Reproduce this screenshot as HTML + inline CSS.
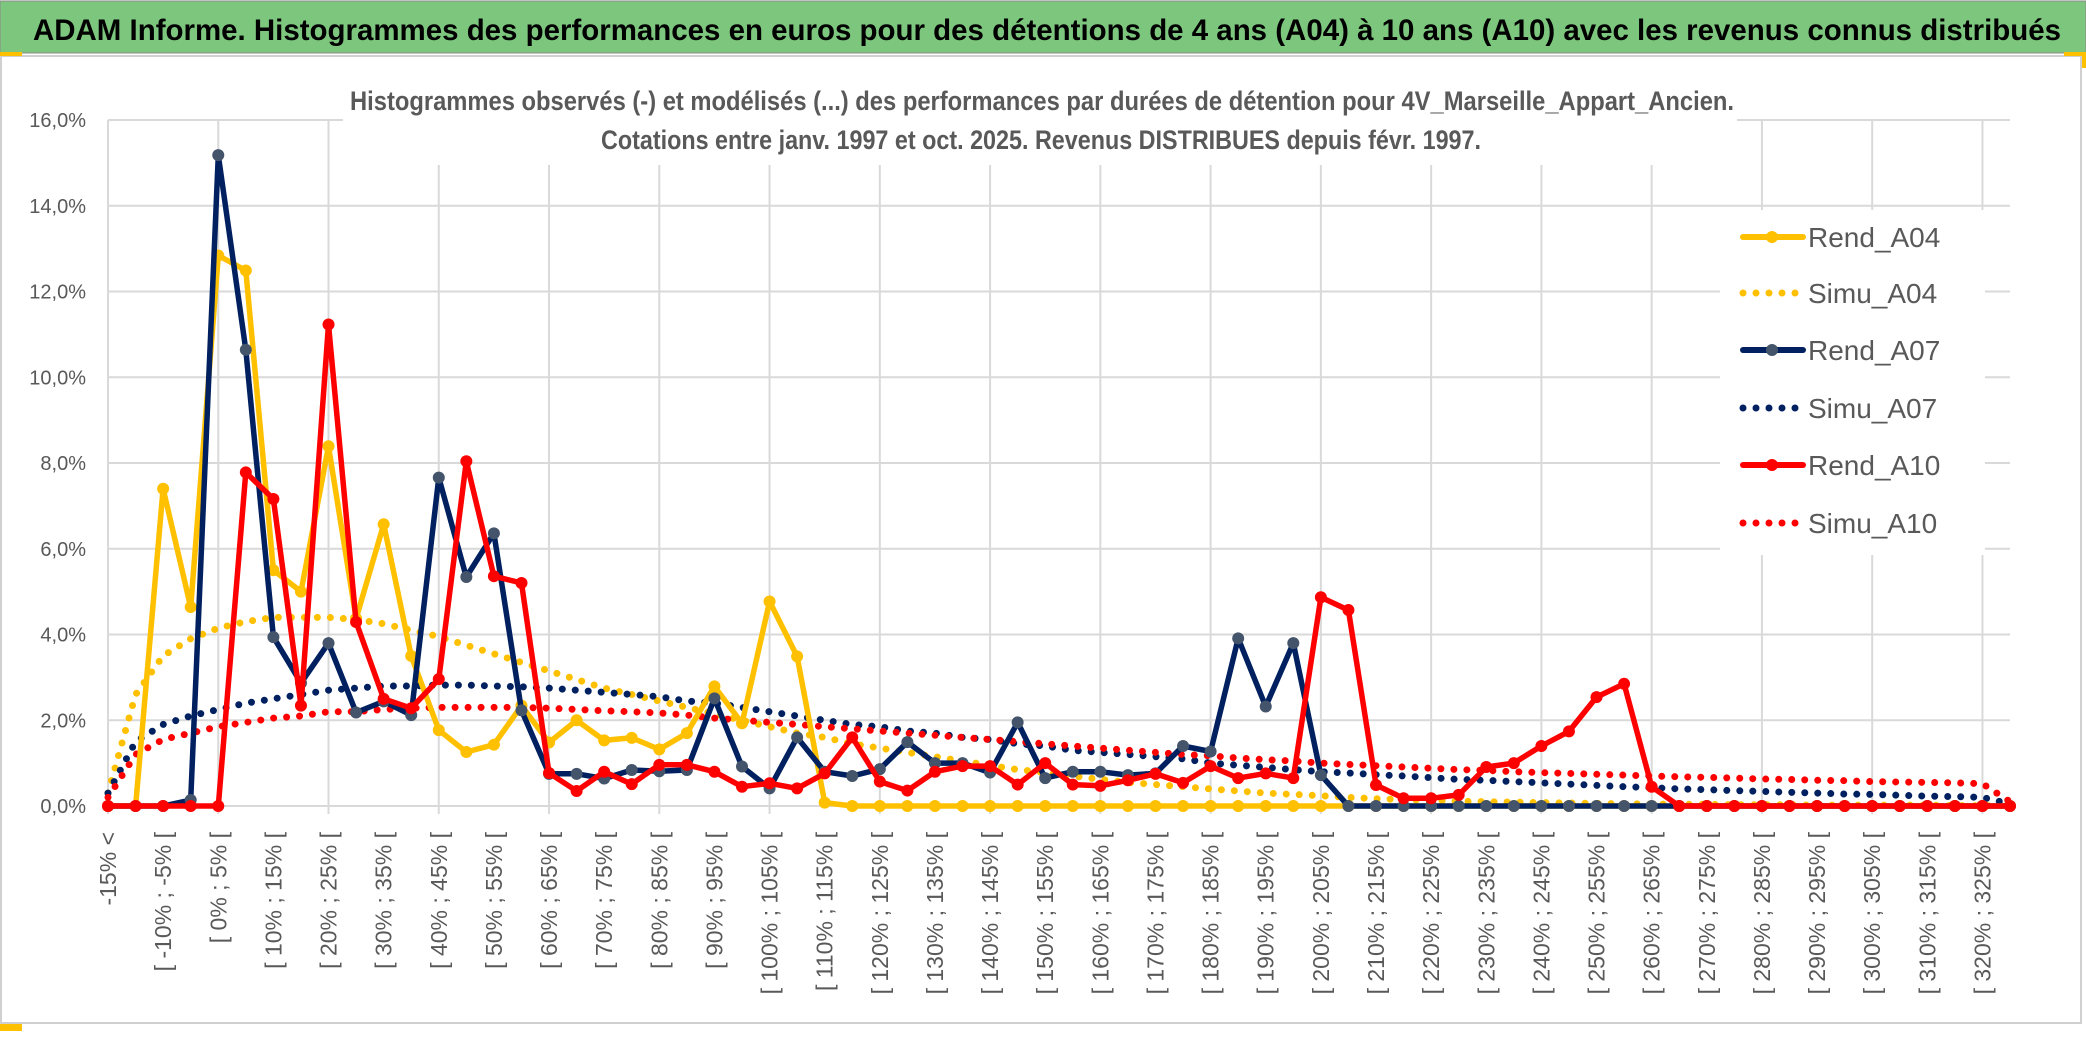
<!DOCTYPE html>
<html><head><meta charset="utf-8"><style>
html,body{margin:0;padding:0;background:#fff;}
body{width:2086px;height:1033px;overflow:hidden;position:relative;font-family:"Liberation Sans",sans-serif;}
</style></head><body>
<svg id="chart" width="2086" height="1033" viewBox="0 0 2086 1033" xmlns="http://www.w3.org/2000/svg" font-family="Liberation Sans, sans-serif">
  <rect x="0" y="0" width="2086" height="1033" fill="#fff"/>
  <rect x="0" y="1" width="2086" height="52" fill="#7dc67e" stroke="#8a8a8a" stroke-width="1"/>
  <text x="33" y="40" font-size="30" font-weight="bold" fill="#000" textLength="2028" lengthAdjust="spacingAndGlyphs">ADAM Informe. Histogrammes des performances en euros pour des détentions de 4 ans (A04) à 10 ans (A10) avec les revenus connus distribués</text>
  <rect x="1" y="56" width="2080" height="967" fill="#fff" stroke="#d0d0d0" stroke-width="2"/>
  <rect x="0" y="52" width="22" height="4" fill="#ffc000"/>
  <rect x="0" y="1024" width="22" height="7" fill="#ffc000"/>
  <rect x="2064" y="52" width="22" height="4" fill="#ffc000"/>
  <rect x="2082" y="52" width="4" height="16" fill="#ffc000"/>
  <g id="grid"></g>
  <rect x="343" y="60" width="1394" height="105" fill="#fff"/>
  <text x="1042" y="110" font-size="27" font-weight="bold" fill="#595959" text-anchor="middle" textLength="1384" lengthAdjust="spacingAndGlyphs">Histogrammes observés (-) et modélisés (...) des performances par durées de détention pour 4V_Marseille_Appart_Ancien.</text>
  <text x="1041" y="149" font-size="27" font-weight="bold" fill="#595959" text-anchor="middle" textLength="880" lengthAdjust="spacingAndGlyphs">Cotations entre janv. 1997 et oct. 2025. Revenus DISTRIBUES depuis févr. 1997.</text>
  <g id="yaxis"></g>
  <g id="xaxis"></g>
  <g id="series"></g>
  <g id="legend"></g>
</svg>
<script>
const yTicks = [0,2,4,6,8,10,12,14,16];
const rendA04 = [0,0,7.4,4.64,12.84,12.49,5.5,5.0,8.39,4.37,6.57,3.5,1.77,1.26,1.43,2.34,1.48,2.0,1.53,1.59,1.32,1.7,2.79,1.93,4.77,3.49,0.08,0,0,0,0,0,0,0,0,0,0,0,0,0,0,0,0,0,0,0,0,0,0,0,0,0,0,0,0,0,0,0,0,0,0,0,0,0,0,0,0,0,0,0];
const simuA04 = [0.3,2.6,3.5,3.9,4.15,4.3,4.4,4.4,4.4,4.35,4.25,4.1,3.95,3.75,3.55,3.35,3.15,2.95,2.75,2.6,2.45,2.3,2.15,2.0,1.85,1.7,1.6,1.45,1.35,1.25,1.15,1.05,0.95,0.85,0.78,0.7,0.62,0.55,0.5,0.45,0.4,0.35,0.3,0.27,0.24,0.2,0.17,0.15,0.13,0.11,0.1,0.09,0.08,0.07,0.06,0.05,0.05,0.04,0.04,0.03,0.03,0.03,0.02,0.02,0.02,0.02,0.02,0.01,0.01,0.01];
const rendA07 = [0,0,0,0.14,15.18,10.64,3.94,2.87,3.8,2.18,2.44,2.12,7.66,5.34,6.36,2.23,0.75,0.75,0.64,0.84,0.81,0.84,2.51,0.92,0.41,1.6,0.8,0.7,0.86,1.49,1.0,1.0,0.78,1.95,0.65,0.8,0.8,0.72,0.76,1.4,1.27,3.91,2.32,3.8,0.72,0,0,0,0,0,0,0,0,0,0,0,0,0,0,0,0,0,0,0,0,0,0,0,0,0];
const simuA07 = [0.3,1.5,1.9,2.1,2.25,2.4,2.5,2.6,2.7,2.75,2.8,2.8,2.82,2.82,2.8,2.78,2.75,2.7,2.65,2.6,2.55,2.45,2.4,2.3,2.2,2.1,2.0,1.9,1.85,1.75,1.7,1.6,1.55,1.45,1.4,1.3,1.25,1.2,1.15,1.1,1.0,0.95,0.9,0.85,0.8,0.77,0.73,0.7,0.66,0.62,0.6,0.57,0.54,0.51,0.48,0.45,0.43,0.4,0.38,0.36,0.34,0.32,0.3,0.28,0.27,0.25,0.23,0.22,0.2,0.05];
const rendA10 = [0,0,0,0,0,7.78,7.16,2.34,11.23,4.29,2.5,2.28,2.96,8.04,5.36,5.2,0.77,0.35,0.8,0.51,0.96,0.96,0.8,0.45,0.53,0.41,0.76,1.6,0.57,0.36,0.8,0.93,0.93,0.5,1.0,0.5,0.47,0.6,0.75,0.54,0.93,0.65,0.76,0.65,4.87,4.57,0.49,0.18,0.18,0.26,0.91,1.0,1.4,1.74,2.54,2.85,0.45,0,0,0,0,0,0,0,0,0,0,0,0,0];
const simuA10 = [0.2,1.2,1.55,1.7,1.85,1.95,2.05,2.1,2.2,2.2,2.25,2.28,2.3,2.3,2.3,2.3,2.28,2.25,2.22,2.2,2.17,2.12,2.05,2.0,1.95,1.9,1.85,1.8,1.75,1.7,1.65,1.6,1.55,1.5,1.45,1.4,1.35,1.3,1.25,1.2,1.17,1.12,1.08,1.05,1.0,0.97,0.94,0.91,0.88,0.85,0.83,0.8,0.78,0.76,0.74,0.72,0.7,0.68,0.67,0.65,0.63,0.62,0.6,0.59,0.57,0.56,0.55,0.54,0.52,0.1];
const categories = ["-15% <"];
for (let lo = -15; lo < 330; lo += 5) categories.push("[ " + lo + "% ; " + (lo + 5) + "% [");

const NS = "http://www.w3.org/2000/svg";
const X0 = 108, X1 = 2010, Y0 = 806, Y1 = 120, YMAX = 16;
const n = categories.length;
function xs(i){ return X0 + (X1 - X0) * i / (n - 1); }
function ys(v){ return Y0 - (Y0 - Y1) * v / YMAX; }
function mk(tag, attrs, parent){ const e = document.createElementNS(NS, tag); for (const k in attrs) e.setAttribute(k, attrs[k]); parent.appendChild(e); return e; }

const grid = document.getElementById('grid');
yTicks.forEach(t => {
  const l = mk('line', {x1: X0, x2: X1, y1: ys(t), y2: ys(t), stroke: '#d9d9d9', 'stroke-width': 2}, grid);
  
  
});
for (let i = 0; i < n; i += 4) {
  const l = mk('line', {x1: xs(i), x2: xs(i), y1: Y1, y2: Y0 + 8, stroke: '#d9d9d9', 'stroke-width': 2}, grid);
  
  
}

const yaxis = document.getElementById('yaxis');
yTicks.forEach(t => {
  const tx = mk('text', {x: 86, y: ys(t) + 7, 'font-size': 20, fill: '#595959', 'text-anchor': 'end'}, yaxis);
  tx.textContent = t.toFixed(1).replace('.', ',') + '%';
  
  
});

const xaxis = document.getElementById('xaxis');
for (let i = 0; i < n; i += 2) {
  const x = xs(i) + 8, y = 832;
  const tx = mk('text', {x: x, y: y, 'font-size': 23, fill: '#595959', 'text-anchor': 'end', transform: 'rotate(-90 ' + x + ' ' + y + ')'}, xaxis);
  tx.textContent = categories[i];
  
  
}

const series = document.getElementById('series');
function pts(arr){ return arr.map((v, i) => xs(i).toFixed(1) + ',' + ys(v).toFixed(1)).join(' '); }
function dotted(arr, color, name){
  const p = mk('polyline', {points: pts(arr), fill: 'none', stroke: color, 'stroke-width': 7, 'stroke-linecap': 'round', 'stroke-dasharray': '0 13'}, series);
  
  
}
function solid(arr, color, mcolor, name){
  const g = mk('g', {}, series);
  
  
  mk('polyline', {points: pts(arr), fill: 'none', stroke: color, 'stroke-width': 5.5, 'stroke-linejoin': 'round'}, g);
  arr.forEach((v, i) => {
    const c = mk('circle', {cx: xs(i), cy: ys(v), r: 6, fill: mcolor}, g);
    
    
  });
}
dotted(simuA04, '#ffc000', 'simu-a04-line');
dotted(simuA07, '#002060', 'simu-a07-line');
dotted(simuA10, '#ff0000', 'simu-a10-line');
solid(rendA04, '#ffc000', '#ffc000', 'rend-a04-line');
solid(rendA07, '#002060', '#44546a', 'rend-a07-line');
solid(rendA10, '#ff0000', '#ff0000', 'rend-a10-line');

const legend = document.getElementById('legend');
mk('rect', {x: 1720, y: 210, width: 265, height: 345, fill: '#fff'}, legend);
const legendItems = [
  ['Rend_A04', '#ffc000', '#ffc000', false, 237],
  ['Simu_A04', '#ffc000', null, true, 293],
  ['Rend_A07', '#002060', '#44546a', false, 350],
  ['Simu_A07', '#002060', null, true, 408],
  ['Rend_A10', '#ff0000', '#ff0000', false, 465],
  ['Simu_A10', '#ff0000', null, true, 523]
];
legendItems.forEach(it => {
  const g = mk('g', {}, legend);
  
  
  const y = it[4];
  if (it[3]) {
    mk('line', {x1: 1743, x2: 1800, y1: y, y2: y, stroke: it[1], 'stroke-width': 7, 'stroke-linecap': 'round', 'stroke-dasharray': '0 13'}, g);
  } else {
    mk('line', {x1: 1743, x2: 1803, y1: y, y2: y, stroke: it[1], 'stroke-width': 6, 'stroke-linecap': 'round'}, g);
    mk('circle', {cx: 1772, cy: y, r: 6, fill: it[2]}, g);
  }
  const t = mk('text', {x: 1808, y: y + 10, 'font-size': 28, fill: '#595959'}, g);
  t.textContent = it[0];
});
</script>
</body></html>
